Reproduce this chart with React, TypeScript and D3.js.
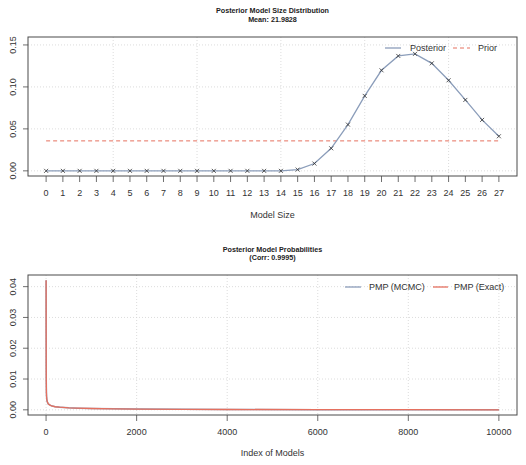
import React from "react";
import * as d3 from "d3";

// ---- Data ----
const modelSizes: number[] = Array.from({ length: 28 }, (_, i) => i);
const posteriorValues: number[] = [
  0, 0, 0, 0, 0, 0, 0, 0, 0, 0, 0, 0, 0, 0, 0,
  0.0015, 0.0087, 0.0269, 0.0551, 0.0893, 0.1198, 0.1369, 0.1394, 0.1281,
  0.1079, 0.0845, 0.0607, 0.0412,
];
const priorValue = 1 / 28;
const topYTicks: number[] = [0, 0.05, 0.1, 0.15];
const topGridX: number[] = [4, 9, 14, 19, 24];

const pmpIndex: number[] = [
  1, 2, 3, 5, 8, 12, 20, 30, 50, 80, 120, 200, 300, 500, 700, 1000, 1500,
  2000, 3000, 4000, 6000, 8000, 10000,
];
const pmpExact: number[] = [
  0.0421, 0.025, 0.015, 0.009, 0.0055, 0.004, 0.003, 0.0025, 0.0019, 0.0016,
  0.0013, 0.001, 0.00085, 0.00065, 0.00052, 0.00042, 0.00032, 0.00025,
  0.00016, 0.00011, 0.00006, 0.00003, 0.00001,
];
const pmpMcmc: number[] = [
  0.0421, 0.0249, 0.0151, 0.0089, 0.0056, 0.0041, 0.003, 0.0025, 0.0019,
  0.0016, 0.0013, 0.001, 0.00086, 0.00064, 0.00052, 0.00042, 0.00033,
  0.00025, 0.00016, 0.00011, 0.00006, 0.00003, 0.00001,
];
const bottomXTicks: number[] = [0, 2000, 4000, 6000, 8000, 10000];
const bottomYTicks: number[] = [0, 0.01, 0.02, 0.03, 0.04];

const FONT = "'Liberation Sans', Arial, Helvetica, sans-serif";
const BOX = "#4a4a4a";
const GRID = "#d3d3d3";
const BLUE = "#8b9dba";
const RED = "#e5705f";
const TXT = "#333";

export default function App() {
  const L = 28, R = 517;
  // top panel
  const tTop = 37, tBot = 176;
  const tYMax = d3.max(posteriorValues)! * 1.1;
  const tx = d3.scaleLinear().domain([-0.04 * 27, 27 * 1.04]).range([L, R]);
  const ty = d3
    .scaleLinear()
    .domain([-0.04 * tYMax, tYMax * 1.04])
    .range([tBot, tTop]);
  const postLine = d3
    .line<number>()
    .x((_, i) => tx(modelSizes[i]))
    .y((d) => ty(d));

  // bottom panel
  const bTop = 275, bBot = 415;
  const n = 10000;
  const bYMax = d3.max(pmpExact)!;
  const bx = d3
    .scaleLinear()
    .domain([1 - 0.04 * (n - 1), n + 0.04 * (n - 1)])
    .range([L, R]);
  const by = d3
    .scaleLinear()
    .domain([-0.04 * bYMax, bYMax * 1.04])
    .range([bBot, bTop]);
  const pmpLine = (vals: number[]) =>
    d3
      .line<number>()
      .x((_, i) => bx(pmpIndex[i]))
      .y((d) => by(d))(vals) || "";

  const cx = (L + R) / 2;

  return (
    <div style={{ position: "fixed", left: 0, top: 0 }}>
      <svg width={526} height={465} style={{ display: "block", background: "#fff" }} fontFamily={FONT}>
        {/* ===== TOP PANEL ===== */}
        <text x={cx} y={13} textAnchor="middle" fontSize={7.2} fontWeight="bold" fill="#222">
          Posterior Model Size Distribution
        </text>
        <text x={cx} y={22} textAnchor="middle" fontSize={7.2} fontWeight="bold" fill="#222">
          Mean: 21.9828
        </text>
        {/* grid */}
        {topYTicks.map((v) => (
          <line key={"tgy" + v} x1={L} x2={R} y1={ty(v)} y2={ty(v)} stroke={GRID} strokeDasharray="1,2" strokeWidth={0.8} />
        ))}
        {topGridX.map((v) => (
          <line key={"tgx" + v} x1={tx(v)} x2={tx(v)} y1={tTop} y2={tBot} stroke={GRID} strokeDasharray="1,2" strokeWidth={0.8} />
        ))}
        {/* prior */}
        <line x1={tx(0)} x2={tx(27)} y1={ty(priorValue)} y2={ty(priorValue)} stroke={RED} strokeWidth={1} strokeDasharray="4,3" />
        {/* posterior */}
        <path d={postLine(posteriorValues) || ""} fill="none" stroke={BLUE} strokeWidth={1.3} />
        {posteriorValues.map((v, i) => {
          const x = tx(modelSizes[i]);
          const y = ty(v);
          const s = 2;
          return (
            <g key={"pt" + i} stroke="#333" strokeWidth={0.8}>
              <line x1={x - s} x2={x + s} y1={y - s} y2={y + s} />
              <line x1={x - s} x2={x + s} y1={y + s} y2={y - s} />
            </g>
          );
        })}
        {/* box */}
        <rect x={L} y={tTop} width={R - L} height={tBot - tTop} fill="none" stroke={BOX} strokeWidth={1} />
        {/* x axis */}
        {modelSizes.map((v) => (
          <g key={"tx" + v}>
            <line x1={tx(v)} x2={tx(v)} y1={tBot} y2={tBot + 6} stroke={BOX} strokeWidth={0.8} />
            <text x={tx(v)} y={196} textAnchor="middle" fontSize={9} fill={TXT}>
              {v}
            </text>
          </g>
        ))}
        <text x={cx} y={218} textAnchor="middle" fontSize={9} fill={TXT}>
          Model Size
        </text>
        {/* y axis */}
        {topYTicks.map((v) => (
          <g key={"ty" + v}>
            <line x1={L - 5} x2={L} y1={ty(v)} y2={ty(v)} stroke={BOX} strokeWidth={0.8} />
            <text
              transform={`translate(16,${ty(v)}) rotate(-90)`}
              textAnchor="middle"
              fontSize={9}
              fill={TXT}
            >
              {v.toFixed(2)}
            </text>
          </g>
        ))}
        {/* legend */}
        <line x1={385} x2={401} y1={48} y2={48} stroke={BLUE} strokeWidth={1.3} />
        <text x={410} y={51} fontSize={9} fill={TXT}>
          Posterior
        </text>
        <line x1={453} x2={470} y1={48} y2={48} stroke={RED} strokeWidth={1} strokeDasharray="4,3" />
        <text x={478} y={51} fontSize={9} fill={TXT}>
          Prior
        </text>

        {/* ===== BOTTOM PANEL ===== */}
        <text x={cx} y={251.5} textAnchor="middle" fontSize={7.2} fontWeight="bold" fill="#222">
          Posterior Model Probabilities
        </text>
        <text x={cx} y={260} textAnchor="middle" fontSize={7.2} fontWeight="bold" fill="#222">
          (Corr: 0.9995)
        </text>
        {bottomYTicks.map((v) => (
          <line key={"bgy" + v} x1={L} x2={R} y1={by(v)} y2={by(v)} stroke={GRID} strokeDasharray="1,2" strokeWidth={0.8} />
        ))}
        {bottomXTicks.map((v) => (
          <line key={"bgx" + v} x1={bx(v)} x2={bx(v)} y1={bTop} y2={bBot} stroke={GRID} strokeDasharray="1,2" strokeWidth={0.8} />
        ))}
        <path d={pmpLine(pmpMcmc)} fill="none" stroke={BLUE} strokeWidth={1.5} />
        <path d={pmpLine(pmpExact)} fill="none" stroke={RED} strokeWidth={1.3} />
        <rect x={L} y={bTop} width={R - L} height={bBot - bTop} fill="none" stroke={BOX} strokeWidth={1} />
        {bottomXTicks.map((v) => (
          <g key={"bx" + v}>
            <line x1={bx(v)} x2={bx(v)} y1={bBot} y2={bBot + 6} stroke={BOX} strokeWidth={0.8} />
            <text x={bx(v)} y={435} textAnchor="middle" fontSize={9} fill={TXT}>
              {v}
            </text>
          </g>
        ))}
        <text x={cx} y={456} textAnchor="middle" fontSize={9} fill={TXT}>
          Index of Models
        </text>
        {bottomYTicks.map((v) => (
          <g key={"by" + v}>
            <line x1={L - 5} x2={L} y1={by(v)} y2={by(v)} stroke={BOX} strokeWidth={0.8} />
            <text
              transform={`translate(16,${by(v)}) rotate(-90)`}
              textAnchor="middle"
              fontSize={9}
              fill={TXT}
            >
              {v.toFixed(2)}
            </text>
          </g>
        ))}
        <line x1={345} x2={361} y1={287} y2={287} stroke={BLUE} strokeWidth={1.3} />
        <text x={369} y={290} fontSize={9} fill={TXT}>
          PMP (MCMC)
        </text>
        <line x1={433} x2={448} y1={287} y2={287} stroke={RED} strokeWidth={1.3} />
        <text x={454} y={290} fontSize={9} fill={TXT}>
          PMP (Exact)
        </text>
      </svg>
    </div>
  );
}
